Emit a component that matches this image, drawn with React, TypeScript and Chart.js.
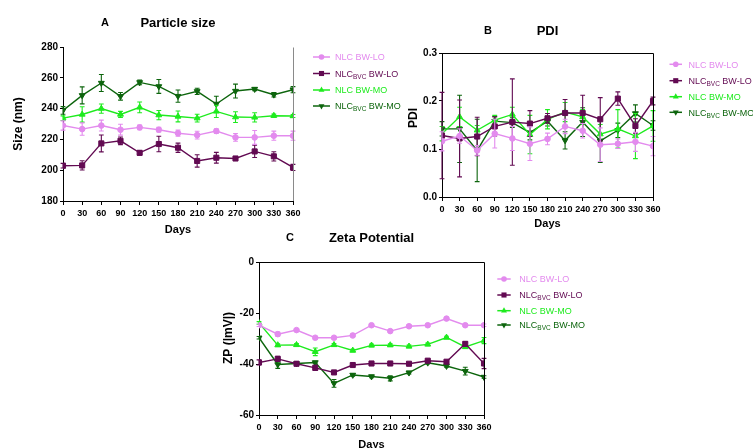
import React, { useEffect, useRef } from 'react';
import { Chart, registerables } from 'chart.js';

Chart.register(...registerables);

// ---------------- data ----------------
const days = [0, 30, 60, 90, 120, 150, 180, 210, 240, 270, 300, 330, 360];

const seriesLabels = ['NLC BW-LO', 'NLC_BVC BW-LO', 'NLC BW-MO', 'NLC_BVC BW-MO'];
const seriesColors = ['#E38BEE', '#620A52', '#1EEB1E', '#0D650D'];
const seriesPointStyles = ['circle', 'rect', 'triangle', 'triangle'];
const seriesPointRotation = [0, 0, 0, 180];
const seriesPointRadius = [2.8, 3.6, 3.4, 3.4];

// Particle size (nm)
const sizeLO = [229, 226.7, 229, 226.3, 227.8, 226.3, 224, 222.8, 225.4, 221.3, 221.3, 222.4, 222.4];
const sizeLOErr = [3, 4, 3.5, 3.5, 1.5, 1.5, 2, 2.5, 1.5, 2.5, 4.5, 3, 3];
const sizeBvcLO = [202.9, 203.1, 217.4, 219.1, 211.3, 217, 214.6, 206, 208.1, 207.6, 212.2, 209, 201.8];
const sizeBvcLOErr = [1.5, 3, 5.5, 2.5, 1.5, 5, 3, 4, 3.5, 1, 4, 3, 2];
const sizeMO = [233.8, 236.2, 240, 236.2, 240.8, 235.8, 234.9, 233.8, 238.2, 234.5, 234.3, 235.4, 235.2];
const sizeMOErr = [1.5, 5, 3, 2, 3.5, 3, 3.5, 2.5, 4, 3.5, 3, 1, 1];
const sizeBvcMO = [238.8, 248.6, 256.6, 248, 257, 254.4, 248.1, 251.2, 243, 251.4, 252.7, 249, 252.3];
const sizeBvcMOErr = [2.5, 5.5, 5.5, 2.5, 1.5, 4.5, 4, 2, 5, 4.5, 1, 1.5, 2];
const sizeTicks = [180, 200, 220, 240, 260, 280];

// PDI
const pdiLO = [0.116, 0.127, 0.097, 0.132, 0.122, 0.111, 0.121, 0.147, 0.138, 0.109, 0.111, 0.115, 0.106];
const pdiLOErr = [0.02, 0.015, 0.01, 0.03, 0.025, 0.035, 0.012, 0.015, 0.015, 0.035, 0.01, 0.02, 0.02];
const pdiBvcLO = [0.128, 0.122, 0.126, 0.147, 0.156, 0.153, 0.164, 0.175, 0.175, 0.162, 0.205, 0.148, 0.2];
const pdiBvcLOErr = [0.09, 0.08, 0.04, 0.02, 0.09, 0.027, 0.01, 0.028, 0.037, 0.045, 0.014, 0.015, 0.008];
const pdiMO = [0.132, 0.167, 0.139, 0.16, 0.172, 0.13, 0.162, 0.177, 0.167, 0.131, 0.142, 0.127, 0.148];
const pdiMOErr = [0.015, 0.02, 0.01, 0.01, 0.015, 0.04, 0.02, 0.02, 0.015, 0.02, 0.04, 0.047, 0.032];
const pdiBvcMO = [0.142, 0.142, 0.097, 0.158, 0.155, 0.134, 0.158, 0.118, 0.156, 0.117, 0.139, 0.174, 0.149];
const pdiBvcMOErr = [0.015, 0.07, 0.065, 0.01, 0.01, 0.015, 0.01, 0.018, 0.03, 0.045, 0.015, 0.018, 0.01];
const pdiTicks = [0, 0.1, 0.2, 0.3];

// Zeta potential (mV)
const zpLO = [-24.8, -28.3, -26.7, -29.7, -29.7, -28.8, -24.8, -27.1, -25.2, -24.8, -22.2, -24.8, -24.8];
const zpLOErr = [0.5, 0.8, 0.5, 0.5, 0.5, 0.5, 0.5, 0.5, 0.5, 0.5, 0.5, 0.5, 0.5];
const zpBvcLO = [-39.4, -38.0, -39.9, -41.5, -43.3, -40.4, -39.8, -39.8, -39.9, -38.7, -39.1, -32.1, -39.8];
const zpBvcLOErr = [1, 1, 0.8, 1, 0.5, 0.5, 0.5, 0.5, 0.5, 0.5, 0.5, 0.8, 2];
const zpMO = [-23.9, -32.6, -32.5, -35.2, -32.5, -34.7, -32.7, -32.6, -33.1, -32.3, -29.6, -33.3, -30.8];
const zpMOErr = [0.5, 0.5, 0.5, 1.5, 0.5, 0.5, 0.5, 0.5, 0.5, 0.5, 0.5, 0.5, 1.2];
const zpBvcMO = [-29.7, -40.2, -39.8, -39.4, -47.6, -44.3, -44.9, -45.6, -43.4, -39.5, -40.8, -42.8, -45.1];
const zpBvcMOErr = [0.5, 1.5, 0.5, 0.5, 1.5, 0.5, 0.5, 1, 0.5, 0.5, 0.5, 1.5, 0.5];
const zpTicks = [-60, -40, -20, 0];

// ---------------- layout ----------------
const W = 753;
const H = 448;
const Y_AXIS_W = 50;
const X_AXIS_H = 30;
const FONT = "'Liberation Sans', Arial, Helvetica, sans-serif";

type Spec = {
  values: number[][];
  errors: number[][];
  yTicks: number[];
  fmt: (v: number) => string;
  area: { left: number; top: number; right: number; bottom: number };
  letter: string;
  letterPos: [number, number];
  title: string;
  titlePos: [number, number];
  yTitle: string;
  yTitlePos: [number, number];
  xTitle: string;
  xTitlePos: [number, number];
  legend: { x0: number; x1: number; tx: number; rows: number[] };
  frameTop: boolean;
  frameColor: string;
};

const specs: Spec[] = [
  {
    values: [sizeLO, sizeBvcLO, sizeMO, sizeBvcMO],
    errors: [sizeLOErr, sizeBvcLOErr, sizeMOErr, sizeBvcMOErr],
    yTicks: sizeTicks,
    fmt: (v) => String(v),
    area: { left: 63, top: 47, right: 293, bottom: 201 },
    letter: 'A',
    letterPos: [105, 23],
    title: 'Particle size',
    titlePos: [178, 23],
    yTitle: 'Size (nm)',
    yTitlePos: [18.5, 124],
    xTitle: 'Days',
    xTitlePos: [178, 229.5],
    legend: { x0: 313, x1: 330, tx: 335, rows: [57, 73.5, 90, 106] },
    frameTop: false,
    frameColor: '#8a8a8a',
  },
  {
    values: [pdiLO, pdiBvcLO, pdiMO, pdiBvcMO],
    errors: [pdiLOErr, pdiBvcLOErr, pdiMOErr, pdiBvcMOErr],
    yTicks: pdiTicks,
    fmt: (v) => Number(v).toFixed(1),
    area: { left: 442, top: 53, right: 653, bottom: 197 },
    letter: 'B',
    letterPos: [488, 31],
    title: 'PDI',
    titlePos: [547.5, 31],
    yTitle: 'PDI',
    yTitlePos: [413.5, 118],
    xTitle: 'Days',
    xTitlePos: [547.5, 223.5],
    legend: { x0: 669.5, x1: 682, tx: 688.5, rows: [64.3, 80.7, 96.7, 112.3] },
    frameTop: true,
    frameColor: '#000',
  },
  {
    values: [zpLO, zpBvcLO, zpMO, zpBvcMO],
    errors: [zpLOErr, zpBvcLOErr, zpMOErr, zpBvcMOErr],
    yTicks: zpTicks,
    fmt: (v) => String(v),
    area: { left: 259, top: 262, right: 484, bottom: 415 },
    letter: 'C',
    letterPos: [290, 238],
    title: 'Zeta Potential',
    titlePos: [371.5, 238],
    yTitle: 'ZP (|mV|)',
    yTitlePos: [228.5, 338],
    xTitle: 'Days',
    xTitlePos: [371.5, 445],
    legend: { x0: 497.3, x1: 510.7, tx: 519.3, rows: [279, 295, 310.7, 325] },
    frameTop: true,
    frameColor: '#000',
  },
];

// ---------------- plugins ----------------
const errorBarPlugin = {
  id: 'errorBars',
  beforeDatasetDraw(chart: any, args: any) {
    const ds = chart.data.datasets[args.index];
    const errs: number[] | undefined = ds.errors;
    if (!errs) return;
    const yScale = chart.scales.y;
    const ctx = chart.ctx;
    const cap = 2.4;
    ctx.save();
    ctx.strokeStyle = ds.borderColor;
    ctx.lineWidth = 1.1;
    args.meta.data.forEach((pt: any, i: number) => {
      const v = ds.data[i].y;
      const e = errs[i];
      const yt = yScale.getPixelForValue(v + e);
      const yb = yScale.getPixelForValue(v - e);
      const x = pt.x;
      ctx.beginPath();
      ctx.moveTo(x, yt);
      ctx.lineTo(x, yb);
      ctx.moveTo(x - cap, yt);
      ctx.lineTo(x + cap, yt);
      ctx.moveTo(x - cap, yb);
      ctx.lineTo(x + cap, yb);
      ctx.stroke();
    });
    ctx.restore();
  },
};

function drawMarker(ctx: CanvasRenderingContext2D, style: string, rot: number, r: number, x: number, y: number) {
  ctx.beginPath();
  if (style === 'circle') {
    ctx.arc(x, y, r, 0, Math.PI * 2);
  } else if (style === 'rect') {
    const s = r * Math.SQRT1_2;
    ctx.rect(x - s, y - s, 2 * s, 2 * s);
  } else {
    const dir = rot === 180 ? -1 : 1;
    ctx.moveTo(x, y - dir * r);
    ctx.lineTo(x + r * 0.866, y + dir * r * 0.5);
    ctx.lineTo(x - r * 0.866, y + dir * r * 0.5);
    ctx.closePath();
  }
  ctx.fill();
}

function makeDecorPlugin(spec: Spec) {
  return {
    id: 'decor',
    afterDraw(chart: any) {
      const ctx: CanvasRenderingContext2D = chart.ctx;
      const a = chart.chartArea;
      ctx.save();
      // frame
      ctx.strokeStyle = spec.frameColor;
      ctx.lineWidth = 1;
      ctx.beginPath();
      const rx = Math.round(a.right) + 0.5;
      const ty = Math.round(a.top) + 0.5;
      if (spec.frameTop) {
        ctx.moveTo(a.left, ty);
        ctx.lineTo(rx, ty);
      }
      ctx.moveTo(rx, ty);
      ctx.lineTo(rx, a.bottom);
      ctx.stroke();

      // titles
      ctx.fillStyle = '#000';
      ctx.textAlign = 'center';
      ctx.textBaseline = 'middle';
      ctx.font = `bold 11px ${FONT}`;
      ctx.fillText(spec.letter, spec.letterPos[0], spec.letterPos[1]);
      ctx.font = `bold 13px ${FONT}`;
      ctx.fillText(spec.title, spec.titlePos[0], spec.titlePos[1]);
      ctx.font = `bold 11px ${FONT}`;
      ctx.fillText(spec.xTitle, spec.xTitlePos[0], spec.xTitlePos[1]);
      ctx.save();
      ctx.translate(spec.yTitlePos[0], spec.yTitlePos[1]);
      ctx.rotate(-Math.PI / 2);
      ctx.font = `bold 12px ${FONT}`;
      ctx.fillText(spec.yTitle, 0, 0);
      ctx.restore();

      // legend
      const lg = spec.legend;
      chart.data.datasets.forEach((ds: any, i: number) => {
        const y = lg.rows[i];
        const color = ds.borderColor;
        ctx.strokeStyle = color;
        ctx.fillStyle = color;
        ctx.lineWidth = 1.5;
        ctx.beginPath();
        ctx.moveTo(lg.x0, y);
        ctx.lineTo(lg.x1, y);
        ctx.stroke();
        drawMarker(ctx, ds.pointStyle, ds.pointRotation, ds.pointRadius, (lg.x0 + lg.x1) / 2, y);

        const label: string = ds.label;
        ctx.textAlign = 'left';
        ctx.textBaseline = 'alphabetic';
        const base = y + 3.3;
        let x = lg.tx;
        const us = label.indexOf('_');
        if (us < 0) {
          ctx.font = `9px ${FONT}`;
          ctx.fillText(label, x, base);
        } else {
          const main = label.slice(0, us);
          const rest = label.slice(us + 1);
          const sp = rest.indexOf(' ');
          const sub = rest.slice(0, sp);
          const tail = rest.slice(sp);
          ctx.font = `9px ${FONT}`;
          ctx.fillText(main, x, base);
          x += ctx.measureText(main).width;
          ctx.font = `6.5px ${FONT}`;
          ctx.fillText(sub, x, base + 2);
          x += ctx.measureText(sub).width;
          ctx.font = `9px ${FONT}`;
          ctx.fillText(tail, x, base);
        }
      });
      ctx.restore();
    },
  };
}

function buildConfig(spec: Spec): any {
  const a = spec.area;
  return {
    type: 'line',
    data: {
      datasets: spec.values.map((vals, i) => ({
        label: seriesLabels[i],
        data: days.map((d, j) => ({ x: d, y: vals[j] })),
        errors: spec.errors[i],
        borderColor: seriesColors[i],
        backgroundColor: seriesColors[i],
        borderWidth: 1.4,
        pointStyle: seriesPointStyles[i],
        pointRotation: seriesPointRotation[i],
        pointRadius: seriesPointRadius[i],
        pointBorderWidth: 1,
        pointBorderColor: seriesColors[i],
        pointBackgroundColor: seriesColors[i],
        tension: 0,
        fill: false,
      })),
    },
    options: {
      responsive: false,
      animation: false,
      devicePixelRatio: 1,
      events: [],
      layout: {
        padding: {
          left: a.left - Y_AXIS_W,
          right: W - a.right,
          top: a.top,
          bottom: H - a.bottom - X_AXIS_H,
        },
      },
      plugins: {
        legend: { display: false },
        title: { display: false },
        tooltip: { enabled: false },
      },
      scales: {
        x: {
          type: 'linear',
          min: days[0],
          max: days[days.length - 1],
          afterFit: (s: any) => {
            s.height = X_AXIS_H;
          },
          afterBuildTicks: (s: any) => {
            s.ticks = days.map((v) => ({ value: v }));
          },
          ticks: {
            autoSkip: false,
            maxRotation: 0,
            minRotation: 0,
            padding: 3,
            color: '#000',
            font: { family: FONT, size: 9, weight: 'bold' },
            callback: (v: any) => String(v),
          },
          grid: { display: true, drawOnChartArea: false, drawTicks: true, tickLength: 4, color: '#000', lineWidth: 1 },
          border: { display: true, color: '#000', width: 1 },
        },
        y: {
          type: 'linear',
          min: spec.yTicks[0],
          max: spec.yTicks[spec.yTicks.length - 1],
          afterFit: (s: any) => {
            s.width = Y_AXIS_W;
          },
          afterBuildTicks: (s: any) => {
            s.ticks = spec.yTicks.map((v) => ({ value: v }));
          },
          ticks: {
            autoSkip: false,
            padding: 2,
            color: '#000',
            font: { family: FONT, size: 10, weight: 'bold' },
            callback: (v: any) => spec.fmt(v),
          },
          grid: { display: true, drawOnChartArea: false, drawTicks: true, tickLength: 3, color: '#000', lineWidth: 1 },
          border: { display: true, color: '#000', width: 1 },
        },
      },
    },
    plugins: [errorBarPlugin, makeDecorPlugin(spec)],
  };
}

function Panel({ spec }: { spec: Spec }) {
  const ref = useRef<HTMLCanvasElement>(null);
  useEffect(() => {
    const chart = new Chart(ref.current as HTMLCanvasElement, buildConfig(spec));
    return () => chart.destroy();
  }, [spec]);
  return (
    <canvas
      ref={ref}
      width={W}
      height={H}
      style={{ position: 'absolute', left: 0, top: 0, width: W, height: H }}
    />
  );
}

export default function App() {
  return (
    <div style={{ position: 'absolute', left: 0, top: 0, width: W, height: H, background: '#fff', overflow: 'hidden' }}>
      {specs.map((s, i) => (
        <Panel key={i} spec={s} />
      ))}
    </div>
  );
}
